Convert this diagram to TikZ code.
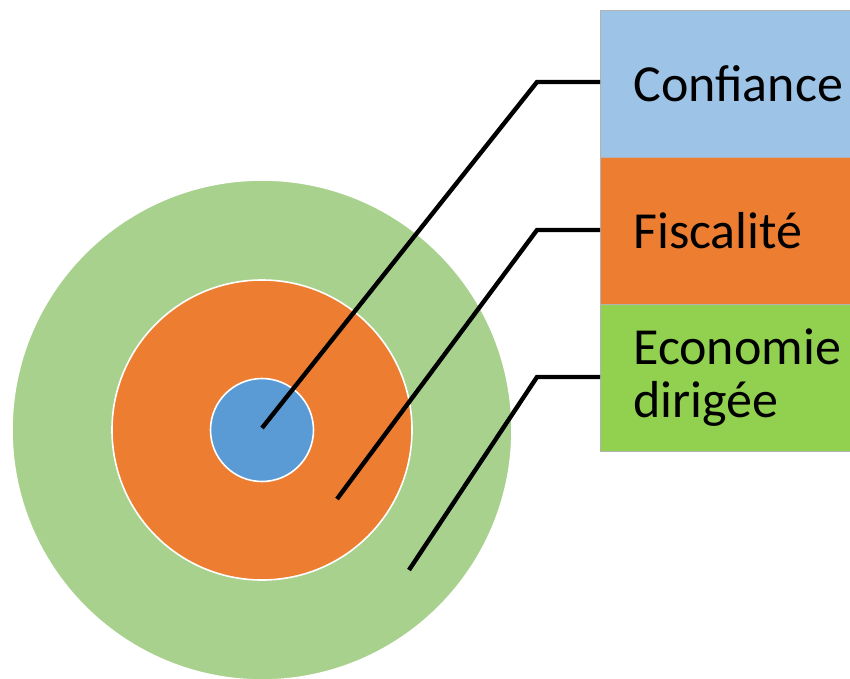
\documentclass[tikz,border=0pt]{standalone}
\usepackage{fontspec}
\setmainfont{Carlito}
\usetikzlibrary{positioning}

\definecolor{ringblue}{HTML}{5B9BD5}
\definecolor{ringorange}{HTML}{ED7D31}
\definecolor{ringgreen}{HTML}{A9D18E}
\definecolor{tagblue}{HTML}{9DC3E6}
\definecolor{tagorange}{HTML}{ED7D31}
\definecolor{taggreen}{HTML}{92D050}

\tikzset{
  ring/.style={circle,draw=white,line width=1.6pt,inner sep=0pt},
  tag/.style={rectangle,draw=gray!60,line width=0.6pt,minimum width=252pt,minimum height=146.5pt,
    inner xsep=33pt,text width=219pt,align=left,font=\fontsize{52}{57}\selectfont},
  pointer/.style={line width=4.4pt,line join=miter}
}

\begin{document}
\begin{tikzpicture}[x=1pt,y=-1pt]
    \useasboundingbox (0,0) rectangle (850,678);
    \node[ring,fill=ringgreen,minimum size=500pt] (economie) at (262,430) {};
    \node[ring,fill=ringorange,minimum size=300pt] (fiscalite) at (262,430) {};
    \node[ring,fill=ringblue,minimum size=103pt] (confiance) at (262,430) {};

    \node[tag,fill=tagblue,anchor=north west] (conf) at (600,10) {Confiance};
    \node[tag,fill=tagorange] (fisc) [below=0pt of conf] {Fiscalité};
    \node[tag,fill=taggreen] (eco) [below=0pt of fisc] {Economie\\[-4pt]dirigée};

    \coordinate (confpt) at (262,428);
    \coordinate (fiscpt) at (337,499);
    \coordinate (ecopt) at (409,570);
    \coordinate (confbend) at (537,82);
    \coordinate (fiscbend) at (537,230);
    \coordinate (ecobend) at (537,377);

    \draw[pointer] (confpt) -- (confbend) -- (confbend -| conf.west);
    \draw[pointer] (fiscpt) -- (fiscbend) -- (fiscbend -| fisc.west);
    \draw[pointer] (ecopt) -- (ecobend) -- (ecobend -| eco.west);
\end{tikzpicture}
\end{document}
